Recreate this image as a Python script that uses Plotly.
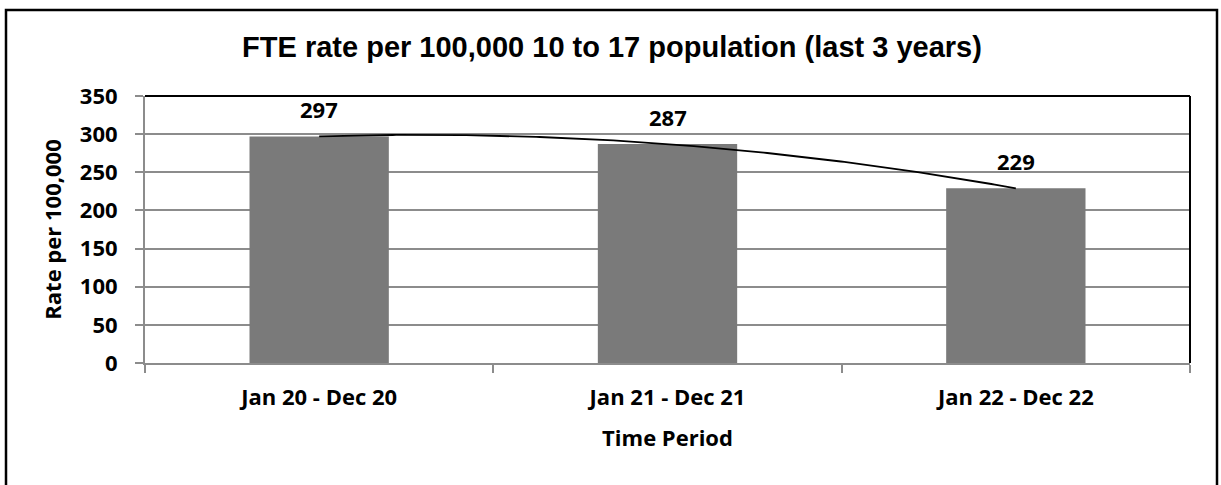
import numpy as np
import plotly.graph_objects as go

categories = ["Jan 20 - Dec 20", "Jan 21 - Dec 21", "Jan 22 - Dec 22"]
rates = [297, 287, 229]
y_ticks = [0, 50, 100, 150, 200, 250, 300, 350]

W, H = 1221, 485
L, R, T, B = 145, 31, 96, 122
pw, ph = W - L - R, H - T - B

x_idx = np.arange(len(categories))

# order-2 polynomial trendline (as in the source spreadsheet chart)
coef = np.polyfit(x_idx, rates, 2)
xt = np.linspace(x_idx[0], x_idx[-1], 200)
yt = np.polyval(coef, xt)

lab_font = "Open Sans"
FS = 22

fig = go.Figure()
fig.add_trace(go.Bar(x=x_idx, y=rates, marker=dict(color="#7a7a7a", line=dict(width=0)),
                     width=0.4, hoverinfo="skip"))
fig.add_trace(go.Scatter(x=xt, y=yt, mode="lines", line=dict(color="black", width=1.8),
                         hoverinfo="skip"))

for xi, v in zip(x_idx, rates):
    fig.add_annotation(x=xi, y=v, text=str(v), showarrow=False, yshift=27,
                       font=dict(family=lab_font, size=FS, color="black", weight="bold"))

fig.update_layout(
    width=W, height=H, margin=dict(l=L, r=R, t=T, b=B),
    paper_bgcolor="white", plot_bgcolor="white", showlegend=False, bargap=0.6,
    title=dict(text="<b>FTE rate per 100,000 10 to 17 population (last 3 years)</b>",
               x=(612 - L) / pw, xref="paper", xanchor="center", y=1 - 47 / H, yanchor="middle",
               font=dict(family="Liberation Sans, Arial", size=29, color="black")),
)
fig.update_xaxes(
    range=[-0.5, 2.5], tickmode="array", tickvals=list(x_idx), ticktext=categories,
    ticks="", showline=True, linecolor="#8c8c8c", linewidth=2, showgrid=False, zeroline=False,
    tickfont=dict(family=lab_font, size=FS, color="black", weight="bold"), ticklabelstandoff=14,
    minor=dict(tickmode="array", tickvals=[-0.5, 0.5, 1.5, 2.5], ticks="outside", ticklen=8,
               tickcolor="#8c8c8c", tickwidth=1.5, showgrid=False),
    title=dict(text="Time Period", standoff=20,
               font=dict(family=lab_font, size=FS, color="black", weight="bold")),
)
fig.update_yaxes(
    range=[0, 350], tickmode="array", tickvals=y_ticks, ticks="outside", ticklen=8,
    tickcolor="#8c8c8c", tickwidth=1.5, showline=True, linecolor="#8c8c8c", linewidth=2,
    showgrid=True, gridcolor="#8c8c8c", gridwidth=1.5, zeroline=False,
    tickfont=dict(family=lab_font, size=FS, color="black", weight="bold"), ticklabelstandoff=13,
    title=dict(text="Rate per 100,000", standoff=12,
               font=dict(family=lab_font, size=FS, color="black", weight="bold")),
)

# black frame on top and right of the plot area
fig.add_shape(type="line", xref="paper", yref="paper", x0=0, x1=1, y0=1, y1=1,
              line=dict(color="black", width=2), layer="above")
fig.add_shape(type="line", xref="paper", yref="paper", x0=1, x1=1, y0=0, y1=1,
              line=dict(color="black", width=2), layer="above")
# outer chart border
fig.add_shape(type="rect", xref="paper", yref="paper",
              x0=(6 - L) / pw, x1=(1217 - L) / pw,
              y0=(H - B - 495) / ph, y1=(H - 10 - B) / ph,
              line=dict(color="black", width=2.5), layer="above")

fig.write_html("out.html", config={"displayModeBar": False},
               post_script="document.body.style.margin='0';")
